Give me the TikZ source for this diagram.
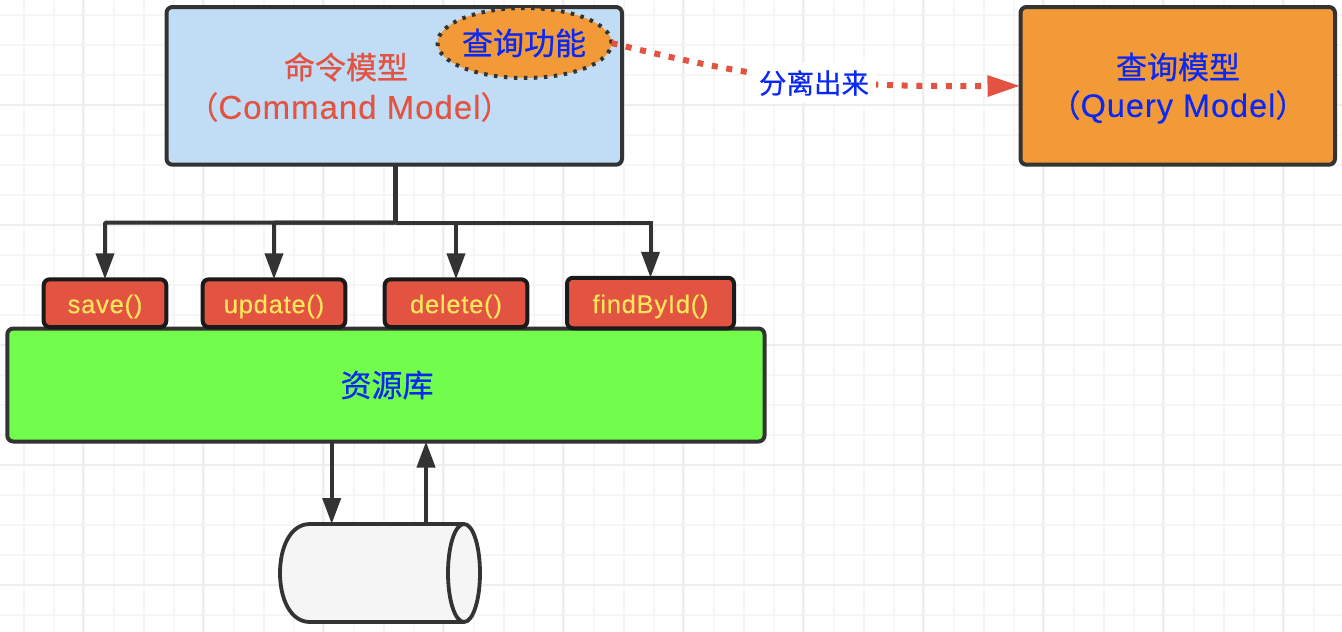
\documentclass[tikz,border=0pt]{standalone}
\usepackage{fontspec}
\setmainfont{Noto Sans CJK SC}[FakeBold=0.6]
\newfontfamily\lat{Liberation Sans}[LetterSpace=3,FakeBold=0.25]
\usetikzlibrary{arrows.meta,shapes.geometric}
\definecolor{ink}{HTML}{333333}
\definecolor{blk}{HTML}{1A1A1A}
\definecolor{cmdfill}{HTML}{C1DDF6}
\definecolor{orangef}{HTML}{F29A38}
\definecolor{redf}{HTML}{E25341}
\definecolor{greenf}{HTML}{72FC4B}
\definecolor{blue1}{HTML}{0A28F5}
\definecolor{yel}{HTML}{FFE65C}
\definecolor{gridminor}{HTML}{F6F6F6}
\definecolor{gridmajor}{HTML}{EEEEEE}
\definecolor{dbfill}{HTML}{F5F5F5}
\tikzset{
  basebox/.style={rectangle,rounded corners=6pt,outer sep=0pt,inner sep=0pt,anchor=center},
  bigbox/.style={basebox,draw=ink,line width=4pt},
  opbox/.style={basebox,draw=blk,line width=4pt,fill=redf,text=yel,text height=25pt,text depth=5pt,font=\lat\fontsize{25.5}{26}\selectfont},
  bigtext/.style={inner sep=0pt,font=\fontsize{31}{40}\selectfont},
  conn/.style={draw=ink,line width=4pt,-{Triangle[length=26pt,width=18pt]},color=ink},
}
\begin{document}
\begin{tikzpicture}[x=1pt,y=-1pt]
\useasboundingbox (0,0) rectangle (1342,632);
\fill[white] (0,0) rectangle (1342,632);
% grid
\foreach \gx in {23.5,53.5,...,1342} \draw[gridminor,line width=2pt] (\gx,0) -- (\gx,632);
\foreach \gy in {15,45,...,632} \draw[gridminor,line width=2pt] (0,\gy) -- (1342,\gy);
\foreach \gx in {83,203,...,1342} \draw[gridmajor,line width=2pt] (\gx,0) -- (\gx,632);
\foreach \gy in {105,225,...,632} \draw[gridmajor,line width=2pt] (0,\gy) -- (1342,\gy);
% main boxes
\node[bigbox,fill=cmdfill,minimum width=455.5pt,minimum height=157.7pt] (cmd) at (394.25,85.85) {};
\node[bigtext,text=redf] (cmdt1) at (346,67) {命令模型};
\node[bigtext,text=redf] (cmdt2) at (349.5,107) {（{\lat\fontsize{33}{40}\selectfont Command Model}）};
\node[ellipse,draw=ink,line width=4pt,dash pattern=on 3.5pt off 6.5pt,fill=orangef,minimum width=174pt,minimum height=70pt,inner sep=0pt,outer sep=0pt] (ell) at (524.5,43) {};
\node[bigtext,text=blue1] (ellt) at (524,43) {查询功能};
\node[bigbox,fill=orangef,minimum width=314.5pt,minimum height=157.7pt] (qry) at (1177.75,85.85) {};
\node[bigtext,text=blue1] (qryt1) at (1178,67) {查询模型};
\node[bigtext,text=blue1] (qryt2) at (1178,107) {（{\lat\fontsize{32.5}{40}\selectfont Query Model}）};
\node[bigbox,fill=greenf,minimum width=757.2pt,minimum height=113pt] (repo) at (385.9,385) {};
\node[bigtext,text=blue1] (repot) at (387,385) {资源库};
% operations
\node[opbox,minimum width=122.6pt,minimum height=47.7pt] (save) at (105,303.15) {save()};
\node[opbox,minimum width=142.6pt,minimum height=47.7pt] (upd) at (274,303.15) {update()};
\node[opbox,minimum width=142.6pt,minimum height=47.7pt] (del) at (456,303.15) {delete()};
\node[opbox,minimum width=167pt,minimum height=50.5pt] (find) at (650.5,303) {findById()};
% fan-out
\coordinate (bus) at (395.5,222.7);
\draw[ink,line width=5.5pt] (cmd.south -| bus) -- (bus);
\draw[conn,rounded corners=1pt] (bus) -| (save.north);
\draw[conn,rounded corners=1pt] (bus) -| (upd.north);
\draw[conn] (bus) -| (del.north);
\draw[conn] (bus) -| (find.north);
% cylinder
\node[rectangle,inner sep=0pt,outer sep=0pt,minimum width=200pt,minimum height=98pt] (db) at (380,573) {};
\draw[ink,fill=dbfill,line width=3.8pt] (464,524) -- (310,524) .. controls (290,524) and (280,548) .. (280,573) .. controls (280,598) and (290,622) .. (310,622) -- (464,622) .. controls (473,622) and (480,600) .. (480,573) .. controls (480,546) and (473,524) .. (464,524) -- cycle;
\draw[ink,line width=3.8pt] (464,524) .. controls (455,524) and (448,546) .. (448,573) .. controls (448,600) and (455,622) .. (464,622);
\coordinate (dn) at (331.7,0);
\coordinate (up) at (426,0);
\draw[conn] (repo.south -| dn) -- (db.north -| dn);
\draw[conn] (db.north -| up) -- (repo.south -| up);
% separated link
\draw[redf,line width=6pt,dash pattern=on 6pt off 8.7pt,-{Triangle[length=33pt,width=20pt]}] (ell.east) .. controls (760,80) and (830,87) .. (qry.west);
\node[fill=white,inner sep=0pt,outer sep=0pt,minimum width=124pt,minimum height=40pt,text=blue1,font=\fontsize{27.5}{30}\selectfont] (lbl) at (814,83) {分离出来};
\end{tikzpicture}
\end{document}
